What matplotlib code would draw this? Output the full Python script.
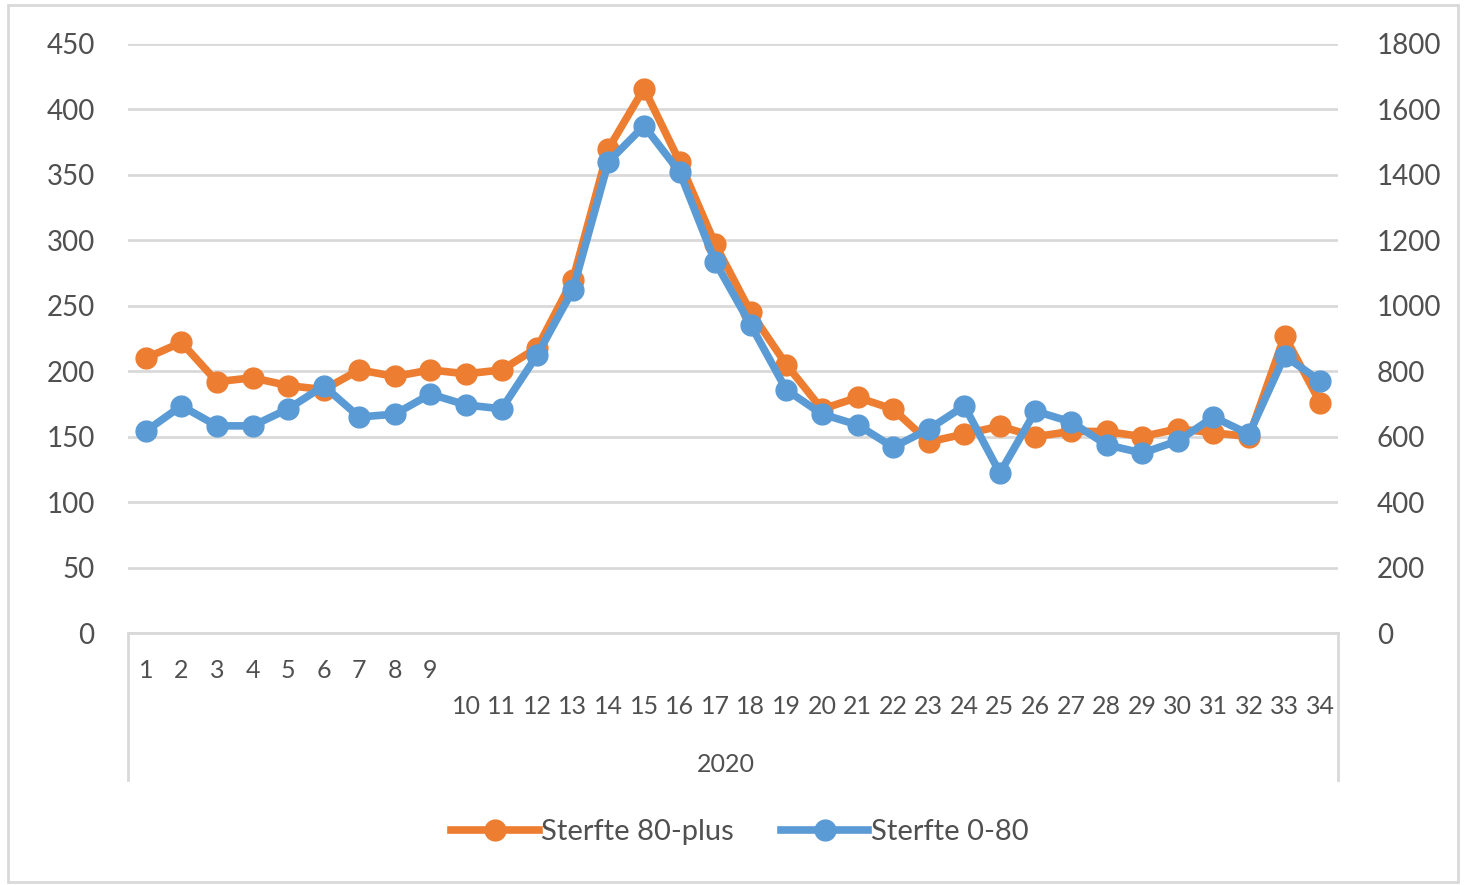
import numpy as np
import matplotlib
matplotlib.use('Agg')
import matplotlib.pyplot as plt
from matplotlib.lines import Line2D
from matplotlib.patches import Rectangle

plt.rcParams['font.family'] = ['Lato', 'DejaVu Sans']

# Data
weeks = list(range(1, 35))
year_label = "2020"
sterfte_80plus = [210, 222, 192, 195, 189, 186, 201, 196, 201, 198,
                  201, 218, 270, 370, 416, 360, 297, 245, 205, 171,
                  180, 171, 146, 152, 158, 150, 154, 154, 150, 156,
                  153, 150, 227, 176]
sterfte_0_80 = [617, 694, 633, 633, 685, 755, 660, 669, 730, 697,
                685, 850, 1048, 1440, 1550, 1409, 1134, 941, 743, 669,
                636, 568, 623, 694, 489, 678, 645, 575, 550, 587,
                660, 608, 847, 770]
left_ticks = [0, 50, 100, 150, 200, 250, 300, 350, 400, 450]
right_ticks = [0, 200, 400, 600, 800, 1000, 1200, 1400, 1600, 1800]

ORANGE = '#ED7D31'
BLUE = '#5B9BD5'
GRID = '#D9D9D9'
TEXT = '#505050'

W, H = 1465, 885
fig = plt.figure(figsize=(W / 100, H / 100), dpi=100)

# outer frame
fig.patches.append(Rectangle((8 / W, 0.003), 1450 / W, 1 - 8 / H, transform=fig.transFigure,
                             fill=False, edgecolor=GRID, linewidth=2))

ax = fig.add_axes([128 / W, 1 - 633 / H, (1338 - 128) / W, (633 - 44) / H])
ax2 = ax.twinx()

ax.set_xlim(0.5, 34.5)
ax.set_ylim(0, 450)
ax2.set_ylim(0, 1800)

ax.set_yticks(left_ticks)
ax2.set_yticks(right_ticks)
ax.yaxis.grid(True, color=GRID, linewidth=2)
ax.set_axisbelow(True)

for a in (ax, ax2):
    for s in a.spines.values():
        s.set_visible(False)
    a.tick_params(axis='y', length=0, labelsize=20, labelcolor=TEXT)
ax.tick_params(axis='y', pad=24)
ax2.tick_params(axis='y', pad=28)
ax.set_xticks([])

ax.spines['bottom'].set_visible(True)
ax.spines['bottom'].set_color(GRID)
ax.spines['bottom'].set_linewidth(2)

ax.plot(weeks, sterfte_80plus, color=ORANGE, linewidth=5.5, marker='o', markersize=15,
        zorder=3, clip_on=False)
ax2.plot(weeks, sterfte_0_80, color=BLUE, linewidth=5.5, marker='o', markersize=15,
         zorder=3, clip_on=False)

# category labels below the axis (Excel staggered layout)
trans = ax.get_xaxis_transform()
for w in weeks:
    y = -37 / 589 if w < 10 else -73 / 589
    ax.text(w, y, str(w), transform=trans, ha='center', va='center',
            fontsize=18, color=TEXT)
ax.text(0.5 * (weeks[0] + weeks[-1]) - 0.2, -131 / 589, year_label, transform=trans,
        ha='center', va='center', fontsize=18, color=TEXT)

# vertical separators of the category axis
for xp in (0.5, 34.5):
    ax.add_line(Line2D([xp, xp], [0, -147 / 589], transform=trans, color=GRID,
                       linewidth=2, clip_on=False))

handles = [Line2D([], [], color=ORANGE, linewidth=5.5, marker='o', markersize=15),
           Line2D([], [], color=BLUE, linewidth=5.5, marker='o', markersize=15)]
fig.legend(handles, ['Sterfte 80-plus', 'Sterfte 0-80'], loc='center',
           bbox_to_anchor=(740 / W, 1 - 832 / H), ncol=2, frameon=False,
           fontsize=21, labelcolor=TEXT, handlelength=3.0, handletextpad=0.1,
           columnspacing=1.6)

fig.savefig('out.png', dpi=100)
